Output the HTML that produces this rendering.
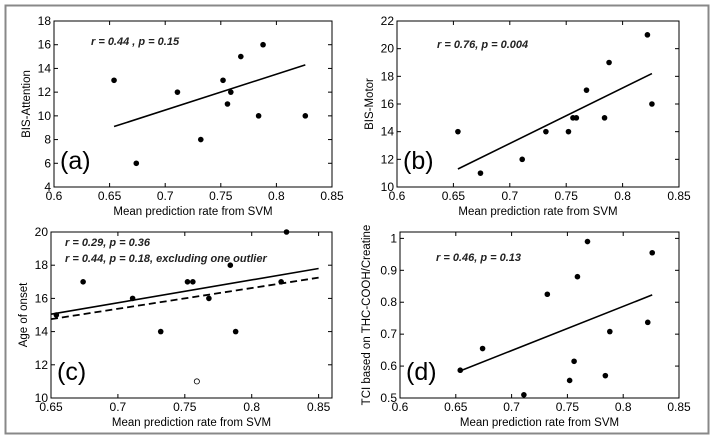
<!DOCTYPE html>
<html><head><meta charset="utf-8"><style>
body{margin:0;background:#fff;}
svg{display:block;font-family:"Liberation Sans",sans-serif;}
</style></head><body>
<svg id="fig" width="714" height="440">
<rect x="5.5" y="5.5" width="703" height="428" fill="none" stroke="#888" stroke-width="2"/>
</svg>
<script>
const xs = [0.654,0.674,0.711,0.732,0.752,0.756,0.759,0.768,0.784,0.788,0.822,0.826];
const yA = [13,6,12,8,13,11,12,15,10,16,null,10];
const yB = [14,11,12,14,14,15,15,17,15,19,21,16];
const yC = [15,17,16,14,17,17,null,16,18,14,17,20];
const yCoutX = [0.759];
const yCoutY = [11];
const yD = [0.587,0.655,0.51,0.825,0.555,0.615,0.88,0.99,0.57,0.708,0.737,0.955];
const fitA = [[0.654,9.1],[0.826,14.3]];
const fitB = [[0.654,11.3],[0.826,18.2]];
const fitC = [[0.65,15.05],[0.85,17.8]];
const fitCdash = [[0.65,14.75],[0.85,17.25]];
const fitD = [[0.654,0.585],[0.826,0.823]];
const xTicksAB = [0.6,0.65,0.7,0.75,0.8,0.85];
const xTicksC = [0.65,0.7,0.75,0.8,0.85];
const yTicksA = [4,6,8,10,12,14,16,18];
const yTicksB = [10,12,14,16,18,20,22];
const yTicksC = [10,12,14,16,18,20];
const yTicksD = [0.5,0.6,0.7,0.8,0.9,1];

const NS="http://www.w3.org/2000/svg";
const svg=document.getElementById('fig');
function mk(tag,attrs,parent,text){const e=document.createElementNS(NS,tag);for(const k in attrs)e.setAttribute(k,attrs[k]);if(text!==undefined)e.textContent=text;(parent||svg).appendChild(e);return e;}

function panel(o){
  const g=mk('g',{});
  
  
  const X=v=>o.L+(v-o.xmin)/(o.xmax-o.xmin)*(o.R-o.L);
  const Y=v=>o.B-(v-o.ymin)/(o.ymax-o.ymin)*(o.B-o.T);
  const box=mk('rect',{x:o.L,y:o.T,width:o.R-o.L,height:o.B-o.T,fill:'none',stroke:'#000','stroke-width':1},g);
  
  
  o.xt.forEach(t=>{
    const x=X(t);
    mk('line',{x1:x,y1:o.B,x2:x,y2:o.B-4,stroke:'#000'},g);
    mk('line',{x1:x,y1:o.T,x2:x,y2:o.T+4,stroke:'#000'},g);
    const tx=mk('text',{x:x,y:o.B+13,'text-anchor':'middle','font-size':12},g,String(t));
    
    
  });
  o.yt.forEach(t=>{
    const y=Y(t);
    mk('line',{x1:o.L,y1:y,x2:o.L+4,y2:y,stroke:'#000'},g);
    mk('line',{x1:o.R,y1:y,x2:o.R-4,y2:y,stroke:'#000'},g);
    const tx=mk('text',{x:o.L-3,y:y+4,'text-anchor':'end','font-size':12},g,String(t));
    
    
  });
  const xl=mk('text',{x:(o.L+o.R)/2,y:o.B+28,'text-anchor':'middle','font-size':11.5},g,'Mean prediction rate from SVM');
  
  
  const cy=(o.T+o.B)/2;
  const yl=mk('text',{x:o.L-o.yoff,y:cy,'text-anchor':'middle','font-size':11.5,transform:`rotate(-90 ${o.L-o.yoff} ${cy})`},g,o.ylabel);
  
  
  o.fits.forEach(f=>{
    const ln=mk('line',{x1:X(f.p[0][0]),y1:Y(f.p[0][1]),x2:X(f.p[1][0]),y2:Y(f.p[1][1]),stroke:'#000','stroke-width':f.dash?1.8:1.6,'stroke-dasharray':f.dash?'7,4':'none'},g);
    
    
  });
  xs.forEach((x,i)=>{
    const v=o.ys[i]; if(v===null)return;
    const c=mk('circle',{cx:X(x),cy:Y(v),r:2.8,fill:'#000'},g);
    
    
  });
  if(o.out){o.out[0].forEach((x,i)=>{
    const c=mk('circle',{cx:X(x),cy:Y(o.out[1][i]),r:2.6,fill:'#fff',stroke:'#000','stroke-width':0.8},g);
    
    
  });}
  o.notes.forEach((n,i)=>{
    const t=mk('text',{x:o.L+o.nx,y:o.T+o.ny+i*16,'font-size':11,'font-style':'italic','font-weight':'bold',fill:'#222'},g,n);
    
    
  });
  const pl=mk('text',{x:o.L+6,y:o.B-18,'font-size':25},g,'('+o.id+')');
  
  
}
panel({id:'a',L:54,R:332,T:21,B:187,xmin:0.6,xmax:0.85,ymin:4,ymax:18,xt:xTicksAB,yt:yTicksA,ys:yA,fits:[{p:fitA}],ylabel:'BIS-Attention',yoff:24,notes:['r = 0.44 , p = 0.15'],nx:37,ny:24});
panel({id:'b',L:397,R:679,T:21,B:187,xmin:0.6,xmax:0.85,ymin:10,ymax:22,xt:xTicksAB,yt:yTicksB,ys:yB,fits:[{p:fitB}],ylabel:'BIS-Motor',yoff:24,notes:['r = 0.76, p = 0.004'],nx:40,ny:27});
panel({id:'c',L:51,R:332,T:232,B:398,xmin:0.65,xmax:0.86,ymin:10,ymax:20,xt:xTicksC,yt:yTicksC,ys:yC,out:[yCoutX,yCoutY],fits:[{p:fitC},{p:fitCdash,dash:true}],ylabel:'Age of onset',yoff:24,notes:['r = 0.29, p = 0.36','r = 0.44, p = 0.18, excluding one outlier'],nx:14,ny:14});
panel({id:'d',L:400,R:679,T:232,B:398,xmin:0.6,xmax:0.85,ymin:0.5,ymax:1.02,xt:xTicksAB,yt:yTicksD,ys:yD,fits:[{p:fitD}],ylabel:'TCI based on THC-COOH/Creatine',yoff:30,notes:['r = 0.46, p = 0.13'],nx:36,ny:29});
</script>
</body></html>
